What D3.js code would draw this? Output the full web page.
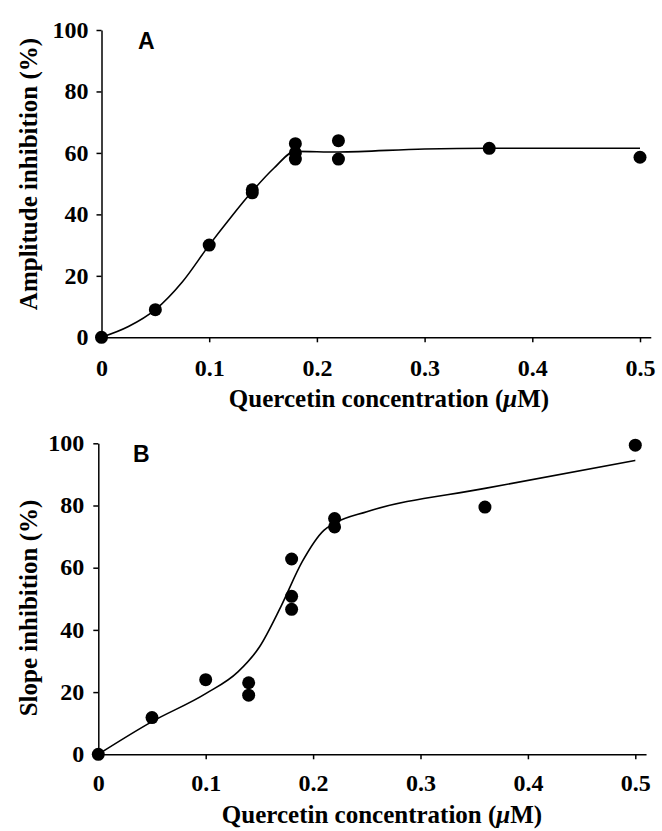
<!DOCTYPE html>
<html>
<head>
<meta charset="utf-8">
<script src="https://cdn.jsdelivr.net/npm/d3@7"></script>
<style>
  body { margin: 0; background: #fff; }
  svg { display: block; }
</style>
</head>
<body>
<div id="chart"></div>
<script>
// panel A - amplitude inhibition
let concA = [0, 0.05, 0.1, 0.14, 0.14, 0.18, 0.18, 0.18, 0.22, 0.22, 0.36, 0.5];
let amplitude = [0, 9, 30, 48, 47, 63, 60, 58, 64, 58, 61.5, 58.6];
let fitConcA = [0, 0.025, 0.05, 0.075, 0.1, 0.12, 0.14, 0.16, 0.18, 0.22, 0.3, 0.36, 0.5];
let fitAmplitude = [0, 3.5, 9, 18, 30, 39, 47.5, 55, 60.5, 60.3, 61.3, 61.5, 61.5];

// panel B - slope inhibition
let concB = [0, 0.05, 0.1, 0.14, 0.14, 0.18, 0.18, 0.18, 0.22, 0.22, 0.36, 0.5];
let slope = [0, 11.8, 24, 23, 19, 62.8, 50.8, 46.6, 75.8, 73.1, 79.5, 99.4];
let fitConcB = [0, 0.05, 0.1, 0.13, 0.15, 0.17, 0.19, 0.21, 0.22, 0.25, 0.36, 0.5];
let fitSlope = [0, 10.5, 19.5, 26.5, 34.5, 47.5, 62, 72, 74.3, 78, 85.5, 94.5];

// ticks
let xTicks = [0, 0.1, 0.2, 0.3, 0.4, 0.5];
let yTicks = [0, 20, 40, 60, 80, 100];

let serif = "'Liberation Serif', 'Times New Roman', serif";
let sans = "'Liberation Sans', Arial, sans-serif";

let svg = d3.select('#chart').append('svg')
    .attr('width', 662)
    .attr('height', 831);

function drawPanel(p) {
    let x = d3.scaleLinear().domain([0, 0.51]).range([p.left, p.left + p.xUnit * 0.51]);
    let y = d3.scaleLinear().domain([0, 100]).range([p.bottom, p.top]);

    let g = svg.append('g');

    // x axis
    let xAxis = g.append('g')
        .attr('transform', 'translate(0,' + p.bottom + ')')
        .call(d3.axisBottom(x).tickValues(xTicks).tickSize(5).tickSizeOuter(0)
            .tickFormat(d => d === 0 ? '0' : d3.format('.1f')(d)));
    xAxis.selectAll('text')
        .attr('y', p.xLabelBase - p.bottom)
        .attr('dy', null);

    // y axis
    let yAxis = g.append('g')
        .attr('transform', 'translate(' + p.left + ',0)')
        .call(d3.axisLeft(y).tickValues(yTicks).tickSize(5).tickSizeOuter(0).tickPadding(p.yPad));
    yAxis.selectAll('text').attr('dy', '0.3em');

    g.selectAll('.domain, .tick line')
        .attr('stroke', '#000')
        .attr('stroke-width', 1.5);
    g.selectAll('.tick text')
        .attr('fill', '#000')
        .style('font-family', serif)
        .style('font-weight', 'bold')
        .style('font-size', '24px');

    // fitted curve
    let line = d3.line()
        .x(d => x(d[0]))
        .y(d => y(d[1]))
        .curve(d3.curveMonotoneX);
    g.append('path')
        .datum(d3.zip(p.fitX, p.fitY))
        .attr('d', line)
        .attr('fill', 'none')
        .attr('stroke', '#000')
        .attr('stroke-width', 1.6);

    // points
    g.selectAll('circle.pt')
        .data(d3.zip(p.xs, p.ys))
        .enter().append('circle')
        .attr('class', 'pt')
        .attr('cx', d => x(d[0]))
        .attr('cy', d => y(d[1]))
        .attr('r', 6.5)
        .attr('fill', '#000');

    // panel letter
    g.append('text')
        .attr('x', p.letterX)
        .attr('y', p.letterY)
        .style('font-family', sans)
        .style('font-weight', 'bold')
        .style('font-size', '23px')
        .text(p.letter);

    // x title
    let xt = g.append('text')
        .attr('x', p.xTitleX)
        .attr('y', p.xTitleBase)
        .attr('text-anchor', 'middle')
        .style('font-family', serif)
        .style('font-weight', 'bold')
        .style('font-size', '25px');
    xt.append('tspan').text('Quercetin concentration (');
    xt.append('tspan').style('font-style', 'italic').text('\u03bc');
    xt.append('tspan').text('M)');

    // y title
    g.append('text')
        .attr('transform', 'translate(' + p.yTitleX + ',' + p.yTitleY + ') rotate(-90)')
        .attr('text-anchor', 'middle')
        .style('font-family', serif)
        .style('font-weight', 'bold')
        .style('font-size', '25px')
        .text(p.yTitle);
}

drawPanel({
    left: 101.5, bottom: 337.3, top: 30, xUnit: 1077,
    yPad: 8, xLabelBase: 376,
    xs: concA, ys: amplitude, fitX: fitConcA, fitY: fitAmplitude,
    letter: 'A', letterX: 138, letterY: 48.5,
    xTitleX: 389, xTitleBase: 407,
    yTitle: 'Amplitude inhibition (%)', yTitleX: 36.5, yTitleY: 174
});

drawPanel({
    left: 98.3, bottom: 754.3, top: 443.3, xUnit: 1074,
    yPad: 9, xLabelBase: 791,
    xs: concB, ys: slope, fitX: fitConcB, fitY: fitSlope,
    letter: 'B', letterX: 133, letterY: 461.7,
    xTitleX: 382, xTitleBase: 823,
    yTitle: 'Slope inhibition (%)', yTitleX: 36.5, yTitleY: 608
});
</script>
</body>
</html>
